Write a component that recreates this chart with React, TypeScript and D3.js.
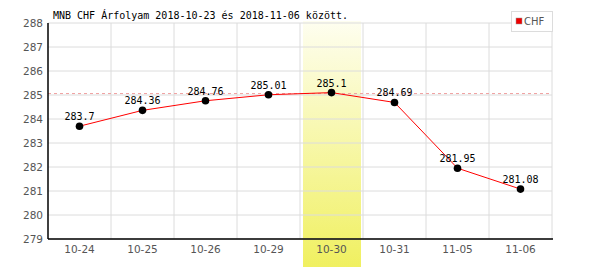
import React from "react";
import * as d3 from "d3";

const categories = ["10-24", "10-25", "10-26", "10-29", "10-30", "10-31", "11-05", "11-06"];
const values = [283.7, 284.36, 284.76, 285.01, 285.1, 284.69, 281.95, 281.08];
const yTicks = [279, 280, 281, 282, 283, 284, 285, 286, 287, 288];
const refValue = 285.06;
const highlightIndex = 4;
const title = "MNB CHF Árfolyam 2018-10-23 és 2018-11-06 között.";
const seriesName = "CHF";

export default function App() {
  const W = 600, H = 270;
  const left = 48, right = 552, top = 23, bottom = 239;
  const x = d3.scaleBand<string>().domain(categories).range([left, right]);
  const y = d3.scaleLinear().domain([279, 288]).range([bottom, top]);
  const cx = (c: string) => (x(c) as number) + x.bandwidth() / 2;
  const line = d3.line<number>().x((_, i) => cx(categories[i])).y((v) => y(v));
  const hb = x(categories[highlightIndex]) as number;
  const mono = "'DejaVu Sans Mono', monospace";
  const sans = "'DejaVu Sans', sans-serif";
  return (
    <svg width={W} height={H} style={{ position: "absolute", left: 0, top: 0, background: "#fff" }}>
      <defs>
        <linearGradient id="hl" x1="0" y1="0" x2="0" y2="1">
          <stop offset="0" stopColor="#fefef0" />
          <stop offset="1" stopColor="#f0f060" />
        </linearGradient>
      </defs>
      <rect x={0} y={0} width={W} height={H} fill="#fff" />
      <rect x={hb + 3} y={top - 2} width={x.bandwidth() - 5} height={267 - (top - 2)} fill="url(#hl)" />
      {yTicks.map((t) => (
        <line key={"gy" + t} x1={left} x2={right} y1={y(t)} y2={y(t)} stroke="#dcdcdc" strokeWidth={1} />
      ))}
      {categories.map((c) => (
        <line key={"gx" + c} x1={(x(c) as number) + x.bandwidth()} x2={(x(c) as number) + x.bandwidth()} y1={top} y2={bottom} stroke="#dcdcdc" strokeWidth={1} />
      ))}
      <line x1={left} x2={right} y1={y(refValue)} y2={y(refValue)} stroke="#f0a0a0" strokeDasharray="3,3" strokeWidth={1} />
      <line x1={left} x2={left} y1={top} y2={bottom} stroke="#000" strokeWidth={1.5} />
      <line x1={left} x2={right + 1} y1={bottom} y2={bottom} stroke="#000" strokeWidth={1.5} />
      {yTicks.map((t) => (
        <text key={"ty" + t} x={43} y={y(t) + 4} textAnchor="end" fontFamily={sans} fontSize={10.5} fill="#555">{t}</text>
      ))}
      {categories.map((c) => (
        <text key={"tx" + c} x={cx(c)} y={253} textAnchor="middle" fontFamily={sans} fontSize={10.5} fill="#555">{c}</text>
      ))}
      <path d={line(values) as string} fill="none" stroke="#ff0000" strokeWidth={1} />
      {values.map((v, i) => (
        <g key={"p" + i}>
          <circle cx={cx(categories[i])} cy={y(v)} r={3.8} fill="#000" />
          <text x={cx(categories[i])} y={y(v) - 6} textAnchor="middle" fontFamily={mono} fontSize={10} fill="#000">{String(v)}</text>
        </g>
      ))}
      <text x={53} y={19} fontFamily={mono} fontSize={10} fill="#000">{title}</text>
      <rect x={511.5} y={11.5} width={41} height={20} fill="#fff" stroke="#dcdcdc" />
      <rect x={516} y={18} width={6} height={6} fill="#ee0000" stroke="#999" strokeWidth={0.5} />
      <text x={524} y={25} fontFamily={sans} fontSize={10} fill="#555">{seriesName}</text>
    </svg>
  );
}
